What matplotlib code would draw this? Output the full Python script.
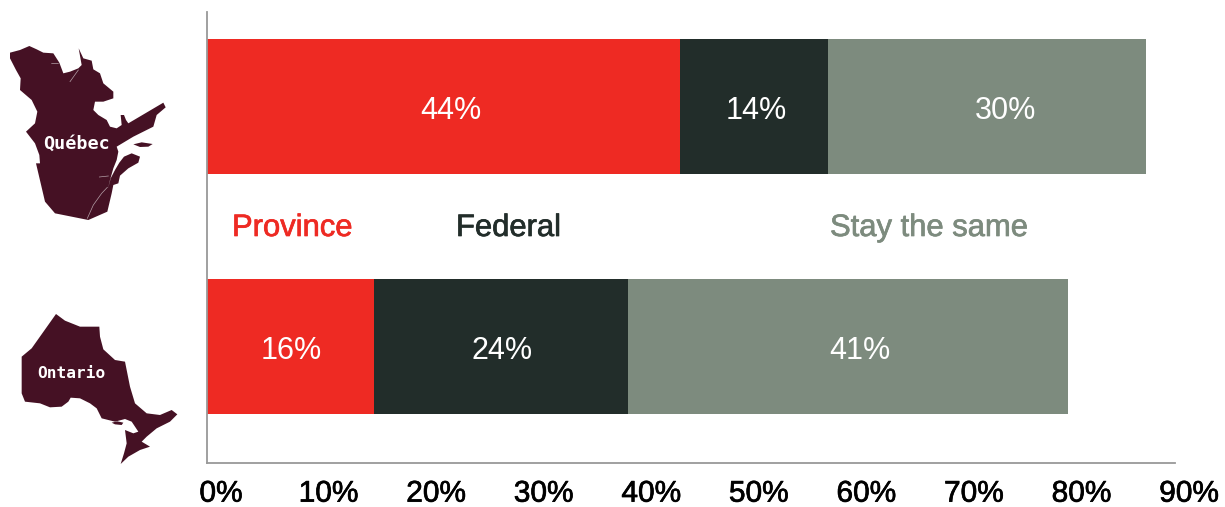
import matplotlib
matplotlib.use('Agg')
import matplotlib.pyplot as plt
import matplotlib.patheffects as pe
from matplotlib.patches import Polygon
from matplotlib.transforms import ScaledTranslation

plt.rcParams['font.family'] = ['Liberation Sans', 'DejaVu Sans']

# Data
provinces = ['Ontario', 'Québec']
series_names = ['Province', 'Federal', 'Stay the same']
province_vals = [15.5, 44.0]
federal_vals = [23.6, 13.7]
same_vals = [40.95, 29.6]
province_labels = ['16%', '44%']
federal_labels = ['24%', '14%']
same_labels = ['41%', '30%']
# the labels in the picture are not centred in their bars
province_label_x = [7.8, 22.7]
federal_label_x = [27.4, 51.1]
same_label_x = [60.7, 74.2]
ticks = [0, 10, 20, 30, 40, 50, 60, 70, 80, 90]

RED = '#EE2A23'
DARK = '#222D2A'
GREY = '#7D8B7E'
MAROON = '#451124'
W, H = 1225, 507

# Outlines of the provinces, traced in a 3x zoom of the picture
quebec_outline = [(30,68),(60,60),(88,48),(110,58),(130,68),(160,70),(178,98),(190,130),(210,125),
    (235,115),(245,105),(236,55),(250,85),(275,92),(280,118),(300,130),(310,160),(340,185),(340,205),
    (310,215),(285,215),(280,240),(295,255),(320,270),(330,290),(350,295),(365,285),(362,255),(372,255),
    (378,270),(385,280),(490,218),(497,232),(470,255),(460,290),(400,320),(350,350),(355,365),(350,390),
    (340,415),(330,450),(324,476),(332,445),(345,420),(358,398),(372,380),(395,370),(420,380),(415,398),
    (385,415),(360,437),(355,460),(340,465),(335,490),(322,545),(265,570),(225,562),(165,550),(135,515),
    (108,400),(120,400),(118,375),(105,340),(78,305),(105,280),(112,245),(95,210),(60,180),(62,145),
    (48,120),(30,85)]
anticosti_outline = [(400,343),(425,337),(458,342),(445,350),(420,351)]
quebec_rivers = [[(262,565),(280,525),(305,490),(322,472)], [(298,441),(325,438)],
                 [(210,155),(235,120)], [(155,101),(175,100)]]
ontario_outline = [(168,42),(195,62),(240,80),(298,80),(300,110),(310,148),(345,180),(375,185),(390,260),
    (405,310),(440,340),(480,345),(515,330),(532,343),(510,365),(470,385),(440,410),(425,425),(450,440),
    (420,450),(385,470),(362,492),(372,460),(380,430),(375,390),(400,400),(415,395),(395,365),(375,357),
    (345,365),(305,355),(290,325),(270,310),(240,295),(212,293),(205,305),(185,320),(150,322),(120,310),
    (75,305),(65,280),(65,170),(95,145)]
manitoulin_outline = [(335,368),(352,364),(370,368),(365,375),(345,373)]

fig = plt.figure(figsize=(W / 100, H / 100), dpi=100)
ax = fig.add_axes([207 / W, 1 - 463 / H, 968 / W, 451 / H])

lefts = [0, 0]
for vals, labels, label_x, color in [(province_vals, province_labels, province_label_x, RED),
                                     (federal_vals, federal_labels, federal_label_x, DARK),
                                     (same_vals, same_labels, same_label_x, GREY)]:
    ax.barh([0, 1], vals, height=0.5625, left=lefts, color=color)
    for y, (lab, x) in enumerate(zip(labels, label_x)):
        ax.text(x, y - 0.02, lab, color='white', fontsize=22, ha='center', va='center')
    lefts = [a + b for a, b in zip(lefts, vals)]

ax.set_xlim(0, 90)
ax.set_ylim(-0.485, 1.394)
ax.set_yticks([])
ax.set_xticks(ticks)
ax.set_xticklabels([f'{t}%' for t in ticks], fontsize=21.5, color='black')
ax.tick_params(axis='x', length=0, pad=12)
shift = ScaledTranslation(14 / 100, 0, fig.dpi_scale_trans)
for lab in ax.get_xticklabels():
    lab.set_transform(lab.get_transform() + shift)
    lab.set_path_effects([pe.withStroke(linewidth=0.5, foreground='black')])
for side in ['top', 'right']:
    ax.spines[side].set_visible(False)
for side in ['left', 'bottom']:
    ax.spines[side].set_color('#999999')
    ax.spines[side].set_linewidth(1.3)

# Legend sits between the bars, as plain coloured text
legend_x = [232, 456, 830]
for name, x, color in zip(series_names, legend_x, [RED, DARK, GREY]):
    fig.text(x / W, 1 - 228 / H, name, color=color, fontsize=22.3, va='center', ha='left',
             path_effects=[pe.withStroke(linewidth=0.5, foreground=color)])

# Maps in an overlay with pixel coordinates
ov = fig.add_axes([0, 0, 1, 1], facecolor='none')
ov.set_xlim(0, W)
ov.set_ylim(H, 0)
ov.axis('off')


def draw_shape(outline, x0, y0):
    pts = [(x / 3 + x0, y / 3 + y0) for x, y in outline]
    ov.add_patch(Polygon(pts, closed=True, fc=MAROON, ec='none'))


draw_shape(quebec_outline, 0, 30)
draw_shape(anticosti_outline, 0, 30)
draw_shape(ontario_outline, 0, 300)
draw_shape(manitoulin_outline, 0, 300)

for river in quebec_rivers:
    ov.plot([p[0] / 3 for p in river], [p[1] / 3 + 30 for p in river], color='white', lw=0.5, alpha=0.6)

ov.text(77, 143.5, provinces[1], color='white', fontsize=13.2, ha='center', va='center',
        family=['DejaVu Sans Mono'], fontweight='bold')
ov.text(71, 373.5, provinces[0], color='white', fontsize=11.6, ha='center', va='center',
        family=['DejaVu Sans Mono'], fontweight='bold')

fig.savefig('out.png', dpi=100)
